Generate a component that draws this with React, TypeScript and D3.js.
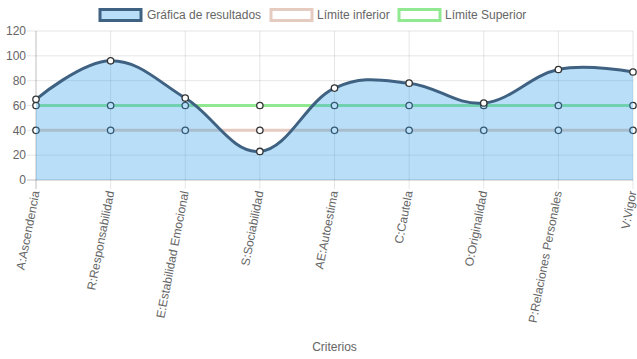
import React from "react";
import * as d3 from "d3";

const categories = [
  "A:Ascendencia",
  "R:Responsabilidad",
  "E:Estabilidad Emocional",
  "S:Sociabilidad",
  "AE:Autoestima",
  "C:Cautela",
  "O:Originalidad",
  "P:Relaciones Personales",
  "V:Vigor",
];
const resultados = [65, 96, 66, 23, 74, 78, 62, 89, 87];
const limiteInferior = [40, 40, 40, 40, 40, 40, 40, 40, 40];
const limiteSuperior = [60, 60, 60, 60, 60, 60, 60, 60, 60];
const yTicks = [0, 20, 40, 60, 80, 100, 120];

const W = 637;
const H = 359;
const left = 36;
const right = 633;
const top = 31;
const bottom = 180;
const font = "'Liberation Sans', Arial, Helvetica, sans-serif";
const textColor = "#666";

const blueLine = "#3f6283";
const blueFill = "rgba(54,162,235,0.35)";
const pinkLine = "#e6cbc0";
const greenLine = "#90e890";

export default function App() {
  const x = d3
    .scalePoint<string>()
    .domain(categories)
    .range([left, right]);
  const y = d3.scaleLinear().domain([0, 120]).range([bottom, top]);

  const curve = d3.curveCardinal.tension(-0.15);
  const line = d3
    .line<number>()
    .x((_, i) => x(categories[i]) as number)
    .y((d) => y(d))
    .curve(curve);
  const area = d3
    .area<number>()
    .x((_, i) => x(categories[i]) as number)
    .y0(y(0))
    .y1((d) => y(d))
    .curve(curve);
  const flat = d3
    .line<number>()
    .x((_, i) => x(categories[i]) as number)
    .y((d) => y(d));

  const points = (vals: number[], key: string) =>
    vals.map((v, i) => (
      <circle
        key={key + i}
        cx={x(categories[i])}
        cy={y(v)}
        r={3.2}
        fill="#fff"
        stroke="#333"
        strokeWidth={1.3}
      />
    ));

  const legend = [
    { label: "Gráfica de resultados", fill: "rgba(54,162,235,0.35)", stroke: blueLine, bx: 100, tx: 147 },
    { label: "Límite inferior", fill: "#fff", stroke: pinkLine, bx: 271, tx: 317 },
    { label: "Límite Superior", fill: "#fff", stroke: greenLine, bx: 399, tx: 445 },
  ];

  return (
    <svg
      width={W}
      height={H}
      style={{ position: "absolute", left: 0, top: 0, background: "#fff" }}
      fontFamily={font}
    >
      {/* legend */}
      {legend.map((l) => (
        <g key={l.label}>
          <rect x={l.bx} y={9.5} width={41} height={11} fill={l.fill} stroke={l.stroke} strokeWidth={3} />
          <text x={l.tx} y={15} dy="0.35em" fontSize={12} fill={textColor}>
            {l.label}
          </text>
        </g>
      ))}

      {/* grid */}
      {yTicks.map((t) => (
        <g key={"y" + t}>
          <line
            x1={left - 9}
            x2={right}
            y1={y(t)}
            y2={y(t)}
            stroke={t === 0 ? "rgba(0,0,0,0.25)" : "rgba(0,0,0,0.1)"}
          />
          <text x={left - 10} y={y(t)} dy="0.35em" textAnchor="end" fontSize={12} fill={textColor}>
            {t}
          </text>
        </g>
      ))}
      {categories.map((c, i) => (
        <line
          key={"x" + c}
          x1={x(c)}
          x2={x(c)}
          y1={top}
          y2={bottom + 9}
          stroke={i === 0 ? "rgba(0,0,0,0.25)" : "rgba(0,0,0,0.1)"}
        />
      ))}

      {/* limit datasets */}
      <path d={flat(limiteSuperior) || ""} fill="none" stroke={greenLine} strokeWidth={3} />
      {points(limiteSuperior, "s")}
      <path d={flat(limiteInferior) || ""} fill="none" stroke={pinkLine} strokeWidth={3} />
      {points(limiteInferior, "i")}

      {/* results */}
      <path d={area(resultados) || ""} fill={blueFill} />
      <path d={line(resultados) || ""} fill="none" stroke={blueLine} strokeWidth={3} />
      {points(resultados, "r")}

      {/* x labels */}
      {categories.map((c) => (
        <text
          key={"l" + c}
          transform={`translate(${(x(c) as number) - 0.5},${bottom + 11}) rotate(-79)`}
          textAnchor="end"
          dy="0.35em"
          fontSize={12}
          fill={textColor}
        >
          {c}
        </text>
      ))}

      <text x={(left + right) / 2} y={347} dy="0.35em" textAnchor="middle" fontSize={12} fill={textColor}>
        Criterios
      </text>
    </svg>
  );
}
